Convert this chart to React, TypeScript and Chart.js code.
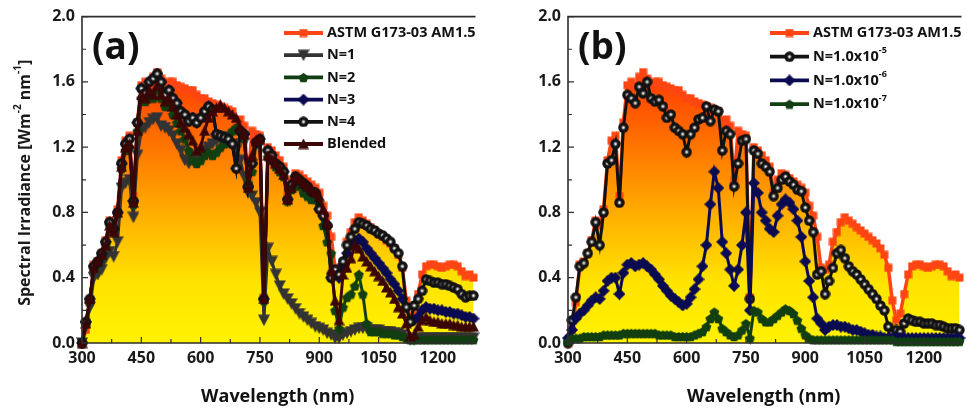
import React, { useEffect, useRef } from 'react';
import { Chart, registerables } from 'chart.js';
Chart.register(...registerables);

// ---------------- data ----------------
const WAVELENGTH = [
  300, 310, 320, 330, 340, 350, 360, 370, 380, 390,
  400, 410, 420, 430, 440, 450, 460, 470, 480, 490,
  500, 510, 520, 530, 540, 550, 560, 570, 580, 590,
  600, 610, 620, 630, 640, 650, 660, 670, 680, 690,
  700, 710, 720, 730, 740, 750, 760, 770, 780, 790,
  800, 810, 820, 830, 840, 850, 860, 870, 880, 890,
  900, 910, 920, 930, 940, 950, 960, 970, 980, 990,
  1000, 1010, 1020, 1030, 1040, 1050, 1060, 1070, 1080, 1090,
  1100, 1110, 1120, 1130, 1140, 1150, 1160, 1170, 1180, 1190,
  1200, 1210, 1220, 1230, 1240, 1250, 1260, 1270, 1280, 1290,
];

const ASTM = [
  0.00, 0.08, 0.25, 0.48, 0.50, 0.55, 0.63, 0.75, 0.72, 0.82,
  1.12, 1.24, 1.27, 0.90, 1.35, 1.58, 1.60, 1.57, 1.63, 1.66,
  1.62, 1.58, 1.60, 1.60, 1.58, 1.57, 1.56, 1.55, 1.55, 1.52,
  1.50, 1.50, 1.48, 1.47, 1.46, 1.45, 1.44, 1.43, 1.42, 1.36,
  1.37, 1.33, 1.00, 1.30, 1.28, 1.27, 0.28, 1.20, 1.18, 1.15,
  1.12, 1.08, 0.92, 1.00, 1.04, 1.03, 1.01, 0.99, 0.97, 0.95,
  0.92, 0.84, 0.78, 0.65, 0.46, 0.45, 0.48, 0.62, 0.68, 0.74,
  0.77, 0.75, 0.73, 0.71, 0.69, 0.67, 0.65, 0.63, 0.61, 0.58,
  0.54, 0.46, 0.26, 0.14, 0.18, 0.30, 0.42, 0.47, 0.48, 0.48,
  0.47, 0.46, 0.47, 0.48, 0.48, 0.47, 0.44, 0.41, 0.42, 0.40,
];

// panel (a)
const A_N1 = [
  0.00, 0.10, 0.22, 0.40, 0.42, 0.45, 0.52, 0.56, 0.53, 0.62,
  0.95, 0.98, 1.00, 0.77, 1.15, 1.30, 1.32, 1.35, 1.37, 1.38,
  1.33, 1.32, 1.30, 1.27, 1.22, 1.18, 1.12, 1.10, 1.12, 1.14,
  1.16, 1.18, 1.20, 1.22, 1.24, 1.25, 1.26, 1.25, 1.22, 1.18,
  1.12, 1.02, 0.92, 0.90, 0.86, 0.80, 0.14, 0.58, 0.50, 0.42,
  0.35, 0.30, 0.27, 0.24, 0.21, 0.18, 0.16, 0.14, 0.12, 0.10,
  0.09, 0.08, 0.06, 0.05, 0.03, 0.03, 0.05, 0.06, 0.07, 0.08,
  0.09, 0.09, 0.09, 0.08, 0.08, 0.08, 0.07, 0.07, 0.07, 0.06,
  0.06, 0.05, 0.03, 0.02, 0.02, 0.03, 0.03, 0.03, 0.03, 0.03,
  0.03, 0.03, 0.03, 0.03, 0.03, 0.03, 0.03, 0.03, 0.03, 0.03,
];
const A_N2 = [
  0.00, 0.12, 0.26, 0.45, 0.49, 0.53, 0.60, 0.72, 0.68, 0.79,
  1.07, 1.18, 1.20, 0.85, 1.30, 1.50, 1.48, 1.52, 1.50, 1.55,
  1.50, 1.45, 1.45, 1.40, 1.35, 1.30, 1.25, 1.18, 1.12, 1.10,
  1.12, 1.15, 1.17, 1.15, 1.17, 1.20, 1.22, 1.27, 1.30, 1.32,
  1.30, 1.25, 0.98, 1.05, 1.22, 1.24, 0.26, 1.14, 1.12, 1.08,
  1.05, 1.02, 0.87, 0.94, 0.98, 0.96, 0.92, 0.90, 0.88, 0.88,
  0.85, 0.72, 0.62, 0.55, 0.20, 0.09, 0.22, 0.28, 0.30, 0.35,
  0.42, 0.30, 0.12, 0.07, 0.07, 0.07, 0.06, 0.06, 0.06, 0.05,
  0.05, 0.04, 0.03, 0.02, 0.02, 0.02, 0.02, 0.02, 0.02, 0.02,
  0.02, 0.02, 0.02, 0.02, 0.02, 0.02, 0.02, 0.02, 0.02, 0.02,
];
const A_N3 = [
  0.00, 0.13, 0.27, 0.47, 0.50, 0.55, 0.62, 0.74, 0.70, 0.80,
  1.10, 1.22, 1.25, 0.87, 1.35, 1.56, 1.53, 1.60, 1.62, 1.65,
  1.60, 1.52, 1.55, 1.50, 1.47, 1.42, 1.40, 1.36, 1.38, 1.35,
  1.38, 1.42, 1.45, 1.43, 1.28, 1.27, 1.26, 1.25, 1.22, 1.07,
  1.30, 1.28, 0.96, 1.10, 1.23, 1.25, 0.27, 1.18, 1.15, 1.10,
  1.08, 1.05, 0.88, 0.97, 1.02, 1.00, 0.98, 0.96, 0.93, 0.92,
  0.82, 0.78, 0.72, 0.40, 0.43, 0.40, 0.48, 0.55, 0.60, 0.62,
  0.64, 0.62, 0.58, 0.55, 0.52, 0.49, 0.46, 0.43, 0.39, 0.36,
  0.32, 0.27, 0.22, 0.13, 0.14, 0.16, 0.20, 0.22, 0.21, 0.21,
  0.20, 0.20, 0.19, 0.19, 0.18, 0.18, 0.17, 0.16, 0.16, 0.15,
];
const A_N4 = [
  0.00, 0.13, 0.27, 0.47, 0.50, 0.55, 0.62, 0.74, 0.70, 0.80,
  1.10, 1.22, 1.25, 0.87, 1.35, 1.56, 1.53, 1.60, 1.62, 1.65,
  1.60, 1.52, 1.55, 1.50, 1.47, 1.42, 1.40, 1.36, 1.38, 1.35,
  1.38, 1.42, 1.45, 1.43, 1.28, 1.27, 1.26, 1.25, 1.22, 1.07,
  1.30, 1.28, 0.96, 1.10, 1.23, 1.25, 0.27, 1.18, 1.15, 1.10,
  1.08, 1.05, 0.88, 0.97, 1.02, 1.00, 0.98, 0.96, 0.93, 0.92,
  0.82, 0.78, 0.72, 0.40, 0.45, 0.42, 0.50, 0.60, 0.65, 0.70,
  0.74, 0.73, 0.72, 0.70, 0.69, 0.67, 0.66, 0.64, 0.62, 0.58,
  0.55, 0.47, 0.22, 0.13, 0.23, 0.27, 0.32, 0.39, 0.38, 0.37,
  0.37, 0.36, 0.36, 0.35, 0.34, 0.33, 0.30, 0.28, 0.29, 0.29,
];
const A_BLENDED = [
  0.00, 0.12, 0.27, 0.46, 0.50, 0.54, 0.60, 0.72, 0.68, 0.80,
  1.08, 1.20, 1.22, 0.86, 1.30, 1.52, 1.50, 1.55, 1.52, 1.58,
  1.52, 1.48, 1.50, 1.45, 1.40, 1.35, 1.32, 1.28, 1.24, 1.18,
  1.20, 1.30, 1.38, 1.42, 1.44, 1.46, 1.44, 1.42, 1.40, 1.38,
  1.32, 1.28, 0.95, 1.15, 1.24, 1.25, 0.27, 1.15, 1.13, 1.10,
  1.07, 1.03, 0.88, 0.95, 1.02, 1.00, 0.98, 0.96, 0.94, 0.92,
  0.90, 0.82, 0.74, 0.45, 0.26, 0.14, 0.42, 0.46, 0.52, 0.60,
  0.58, 0.53, 0.50, 0.47, 0.44, 0.41, 0.38, 0.34, 0.31, 0.27,
  0.22, 0.18, 0.12, 0.04, 0.05, 0.10, 0.14, 0.16, 0.14, 0.13,
  0.13, 0.12, 0.12, 0.12, 0.11, 0.11, 0.10, 0.10, 0.10, 0.10,
];

// panel (b)
const B_N5 = [
  0.00, 0.14, 0.28, 0.47, 0.49, 0.55, 0.62, 0.74, 0.60, 0.80,
  1.10, 1.12, 1.22, 0.86, 1.32, 1.52, 1.50, 1.47, 1.57, 1.53,
  1.60, 1.50, 1.48, 1.49, 1.45, 1.38, 1.40, 1.32, 1.30, 1.28,
  1.17, 1.28, 1.32, 1.37, 1.38, 1.45, 1.36, 1.43, 1.42, 1.18,
  1.30, 1.28, 0.96, 1.10, 1.24, 1.25, 0.27, 1.18, 1.16, 1.10,
  1.08, 1.05, 0.90, 0.95, 1.00, 1.02, 0.99, 0.97, 0.94, 0.93,
  0.83, 0.75, 0.68, 0.42, 0.44, 0.30, 0.38, 0.46, 0.55, 0.57,
  0.52, 0.47, 0.44, 0.42, 0.39, 0.36, 0.33, 0.30, 0.27, 0.23,
  0.20, 0.10, 0.06, 0.08, 0.07, 0.12, 0.15, 0.14, 0.13, 0.13,
  0.12, 0.12, 0.12, 0.11, 0.11, 0.10, 0.09, 0.09, 0.09, 0.08,
];
const B_N6 = [
  0.03, 0.08, 0.15, 0.18, 0.20, 0.23, 0.26, 0.28, 0.27, 0.32,
  0.38, 0.40, 0.40, 0.30, 0.43, 0.48, 0.49, 0.47, 0.48, 0.49,
  0.47, 0.45, 0.42, 0.39, 0.35, 0.32, 0.29, 0.27, 0.25, 0.23,
  0.24, 0.28, 0.33, 0.39, 0.47, 0.60, 0.85, 1.05, 0.95, 0.62,
  0.55, 0.45, 0.35, 0.45, 0.60, 0.80, 0.20, 0.98, 0.92, 0.80,
  0.75, 0.70, 0.68, 0.78, 0.85, 0.88, 0.86, 0.82, 0.75, 0.65,
  0.50, 0.38, 0.28, 0.15, 0.12, 0.08, 0.10, 0.11, 0.11, 0.10,
  0.10, 0.09, 0.08, 0.08, 0.07, 0.06, 0.05, 0.05, 0.04, 0.04,
  0.03, 0.03, 0.03, 0.03, 0.03, 0.03, 0.03, 0.03, 0.03, 0.03,
  0.03, 0.03, 0.03, 0.03, 0.03, 0.03, 0.03, 0.03, 0.03, 0.03,
];
const B_N7 = [
  0.01, 0.03, 0.03, 0.03, 0.04, 0.04, 0.04, 0.04, 0.04, 0.05,
  0.05, 0.05, 0.05, 0.05, 0.06, 0.06, 0.06, 0.06, 0.06, 0.06,
  0.06, 0.06, 0.06, 0.05, 0.05, 0.05, 0.05, 0.04, 0.04, 0.04,
  0.04, 0.04, 0.05, 0.06, 0.07, 0.10, 0.15, 0.19, 0.15, 0.09,
  0.07, 0.05, 0.04, 0.05, 0.08, 0.12, 0.03, 0.20, 0.19, 0.15,
  0.13, 0.13, 0.15, 0.17, 0.19, 0.21, 0.20, 0.18, 0.14, 0.09,
  0.05, 0.03, 0.02, 0.02, 0.02, 0.02, 0.02, 0.02, 0.02, 0.02,
  0.02, 0.02, 0.02, 0.02, 0.02, 0.02, 0.02, 0.02, 0.02, 0.02,
  0.02, 0.02, 0.02, 0.01, 0.01, 0.01, 0.01, 0.01, 0.01, 0.01,
  0.01, 0.01, 0.01, 0.01, 0.01, 0.01, 0.01, 0.01, 0.01, 0.01,
];

const X_MIN = 300;
const X_MAX = 1290;
const X_STEP = 150;
const Y_MIN = 0;
const Y_MAX = 2;
const Y_STEP = 0.4;

// ---------------- styles ----------------
const FONT = '"Open Sans", "DejaVu Sans", sans-serif';
const C_ASTM = '#FF4612';
const C_N1 = '#333333';
const C_N2 = '#113F11';
const C_N3 = '#0B0B52';
const C_N4 = '#121212';
const C_BL = '#3A0606';

type Part = { t: string; sup?: boolean };

function makeMarker(kind: string, color: string, size: number): HTMLCanvasElement {
  const c = document.createElement('canvas');
  c.width = size;
  c.height = size;
  const g = c.getContext('2d')!;
  const r = size / 2;
  g.fillStyle = color;
  g.beginPath();
  if (kind === 'square') {
    g.rect(0.5, 0.5, size - 1, size - 1);
  } else if (kind === 'triDown') {
    g.moveTo(0, 0.5);
    g.lineTo(size, 0.5);
    g.lineTo(r, size);
    g.closePath();
  } else if (kind === 'triUp') {
    g.moveTo(r, 0);
    g.lineTo(size, size - 0.5);
    g.lineTo(0, size - 0.5);
    g.closePath();
  } else if (kind === 'diamond') {
    g.moveTo(r, 0);
    g.lineTo(size, r);
    g.lineTo(r, size);
    g.lineTo(0, r);
    g.closePath();
  } else if (kind === 'pentagon') {
    for (let i = 0; i < 5; i++) {
      const a = (-90 + i * 72) * Math.PI / 180;
      const px = r + (r - 0.3) * Math.cos(a);
      const py = r + 0.6 + (r - 0.3) * Math.sin(a);
      if (i === 0) g.moveTo(px, py); else g.lineTo(px, py);
    }
    g.closePath();
  } else if (kind === 'ball') {
    g.arc(r, r, r - 0.3, 0, Math.PI * 2);
  }
  g.fill();
  if (kind === 'ball') {
    const rg = g.createRadialGradient(r, r, 0, r, r, r * 0.5);
    rg.addColorStop(0, 'rgba(255,255,255,1)');
    rg.addColorStop(0.3, 'rgba(225,225,225,0.95)');
    rg.addColorStop(1, 'rgba(90,90,90,0)');
    g.fillStyle = rg;
    g.beginPath();
    g.arc(r, r, r * 0.5, 0, Math.PI * 2);
    g.fill();
  }
  return c;
}

function partsWidth(ctx: CanvasRenderingContext2D, parts: Part[], size: number, weight: string) {
  let w = 0;
  for (const p of parts) {
    ctx.font = `${weight} ${p.sup ? Math.round(size * 0.62) : size}px ${FONT}`;
    w += ctx.measureText(p.t).width;
  }
  return w;
}

function drawParts(ctx: CanvasRenderingContext2D, parts: Part[], x: number, y: number, size: number, weight: string) {
  let cx = x;
  ctx.textAlign = 'left';
  ctx.textBaseline = 'middle';
  for (const p of parts) {
    if (p.sup) {
      ctx.font = `${weight} ${Math.round(size * 0.62)}px ${FONT}`;
      ctx.fillText(p.t, cx, y - size * 0.4);
    } else {
      ctx.font = `${weight} ${size}px ${FONT}`;
      ctx.fillText(p.t, cx, y);
    }
    cx += ctx.measureText(p.t).width;
  }
}

type LegendEntry = { parts: Part[]; color: string; marker: HTMLCanvasElement };

function decorPlugin(cfg: {
  label: string;
  legend: LegendEntry[];
  legendY0: number;
  legendStep: number;
  yTitle: boolean;
}) {
  return {
    id: 'decor',
    afterDraw(chart: any) {
      const ctx: CanvasRenderingContext2D = chart.ctx;
      const a = chart.chartArea;
      const xs = chart.scales.x;
      const ys = chart.scales.y;
      ctx.save();
      // frame
      ctx.strokeStyle = '#2e2e2e';
      ctx.lineWidth = 1.6;
      ctx.beginPath();
      ctx.moveTo(a.right + 2, a.top);
      ctx.lineTo(a.left, a.top);
      ctx.lineTo(a.left, a.bottom);
      ctx.lineTo(a.right + 2, a.bottom);
      ctx.stroke();
      // inward ticks
      ctx.lineWidth = 1.2;
      ctx.beginPath();
      for (let i = 0; i <= 10; i++) {
        const v = Y_MIN + i * (Y_STEP / 2);
        const py = ys.getPixelForValue(v);
        const len = i % 2 === 0 ? 6 : 4;
        ctx.moveTo(a.left, py);
        ctx.lineTo(a.left + len, py);
      }
      for (let v = X_MIN; v <= X_MAX; v += X_STEP / 2) {
        const px = xs.getPixelForValue(v);
        const len = (v - X_MIN) % X_STEP === 0 ? 6 : 4;
        ctx.moveTo(px, a.bottom);
        ctx.lineTo(px, a.bottom - len);
      }
      ctx.stroke();

      ctx.fillStyle = '#111';
      // panel label
      ctx.font = `bold 37px ${FONT}`;
      ctx.textAlign = 'left';
      ctx.textBaseline = 'alphabetic';
      ctx.fillText(cfg.label, a.left + 10, 59);

      // legend
      cfg.legend.forEach((it, i) => {
        const y = cfg.legendY0 + i * cfg.legendStep;
        ctx.strokeStyle = it.color;
        ctx.lineWidth = 3.8;
        ctx.beginPath();
        ctx.moveTo(a.left + 202, y);
        ctx.lineTo(a.left + 241, y);
        ctx.stroke();
        const m = it.marker;
        ctx.drawImage(m, a.left + 221.5 - m.width / 2, y - m.height / 2);
        ctx.fillStyle = '#111';
        drawParts(ctx, it.parts, a.left + 245, y, 14.5, 'bold');
      });

      // x title
      ctx.fillStyle = '#111';
      ctx.font = `bold 18px ${FONT}`;
      ctx.textAlign = 'center';
      ctx.textBaseline = 'alphabetic';
      ctx.fillText('Wavelength (nm)', (a.left + a.right) / 2, 402);

      // y title
      if (cfg.yTitle) {
        const parts: Part[] = [
          { t: 'Spectral Irradiance [Wm' },
          { t: '-2', sup: true },
          { t: ' nm' },
          { t: '-1', sup: true },
          { t: ']' },
        ];
        ctx.fillStyle = '#1a1a1a';
        const w = partsWidth(ctx, parts, 16, 'bold');
        ctx.translate(25, (a.top + a.bottom) / 2 + 3);
        ctx.rotate(-Math.PI / 2);
        drawParts(ctx, parts, -w / 2, 0, 16, 'bold');
      }
      ctx.restore();
    },
  };
}

function fillGradient(c: any) {
  const chart = c.chart;
  if (!chart.chartArea || !chart.scales.y) return 'rgba(255,220,0,0.9)';
  const y0 = chart.scales.y.getPixelForValue(0);
  const y1 = chart.scales.y.getPixelForValue(1.66);
  const g = chart.ctx.createLinearGradient(0, y0, 0, y1);
  g.addColorStop(0, '#FFF200');
  g.addColorStop(0.22, '#FFE400');
  g.addColorStop(0.45, '#FFB400');
  g.addColorStop(0.7, '#FF7A00');
  g.addColorStop(1, '#FF3A00');
  return g;
}

function series(values: number[], color: string, marker: HTMLCanvasElement, order: number, extra: any = {}) {
  return {
    data: WAVELENGTH.map((x, i) => ({ x, y: values[i] })),
    borderColor: color,
    borderWidth: 3,
    pointStyle: marker,
    pointRadius: 4,
    pointBackgroundColor: color,
    pointBorderColor: color,
    tension: 0,
    fill: false,
    order,
    clip: 7,
    ...extra,
  };
}

function baseOptions() {
  const tickFont = { family: FONT, size: 16, weight: 'bold' as const };
  return {
    animation: false as const,
    responsive: false,
    devicePixelRatio: 1,
    events: [] as any[],
    layout: { padding: { top: 15, left: 0, right: 0, bottom: 0 } },
    plugins: { legend: { display: false }, tooltip: { enabled: false } },
    scales: {
      x: {
        type: 'linear' as const,
        min: X_MIN,
        max: X_MAX,
        ticks: {
          stepSize: X_STEP,
          includeBounds: false,
          padding: 6,
          autoSkip: false,
          maxRotation: 0,
          font: tickFont,
          color: '#1a1a1a',
          callback: (v: any) => String(v),
        },
        grid: { display: false, drawTicks: false },
        border: { display: false },
        afterFit: (s: any) => { s.height = 69; },
      },
      y: {
        min: Y_MIN,
        max: Y_MAX,
        ticks: {
          stepSize: Y_STEP,
          padding: 7,
          font: tickFont,
          color: '#1a1a1a',
          callback: (v: any) => Number(v).toFixed(1),
        },
        grid: { display: false, drawTicks: false },
        border: { display: false },
        afterFit: (s: any) => { s.width = 82; },
      },
    },
  };
}

export default function App() {
  const refA = useRef<HTMLCanvasElement>(null);
  const refB = useRef<HTMLCanvasElement>(null);

  useEffect(() => {
    const mSquare = makeMarker('square', C_ASTM, 9);
    const mTriDown = makeMarker('triDown', C_N1, 12);
    const mPent = makeMarker('pentagon', C_N2, 11);
    const mDiamond = makeMarker('diamond', C_N3, 12);
    const mBall = makeMarker('ball', C_N4, 11);
    const mTriUp = makeMarker('triUp', C_BL, 11);

    const astmSet = (order: number) =>
      series(ASTM, C_ASTM, mSquare, order, {
        fill: 'origin',
        backgroundColor: fillGradient,
        borderWidth: 3.5,
      });

    const chartA = new Chart(refA.current!, {
      type: 'line',
      data: {
        datasets: [
          { label: 'ASTM G173-03 AM1.5', ...astmSet(5) },
          { label: 'N=1', ...series(A_N1, C_N1, mTriDown, 4) },
          { label: 'N=2', ...series(A_N2, C_N2, mPent, 3) },
          { label: 'N=3', ...series(A_N3, C_N3, mDiamond, 2) },
          { label: 'N=4', ...series(A_N4, C_N4, mBall, 1) },
          { label: 'Blended', ...series(A_BLENDED, C_BL, mTriUp, 0) },
        ] as any,
      },
      options: baseOptions() as any,
      plugins: [
        decorPlugin({
          label: '(a)',
          yTitle: true,
          legendY0: 33,
          legendStep: 22.2,
          legend: [
            { parts: [{ t: 'ASTM G173-03 AM1.5' }], color: C_ASTM, marker: mSquare },
            { parts: [{ t: 'N=1' }], color: C_N1, marker: mTriDown },
            { parts: [{ t: 'N=2' }], color: C_N2, marker: mPent },
            { parts: [{ t: 'N=3' }], color: C_N3, marker: mDiamond },
            { parts: [{ t: 'N=4' }], color: C_N4, marker: mBall },
            { parts: [{ t: 'Blended' }], color: C_BL, marker: mTriUp },
          ],
        }) as any,
      ],
    });

    const chartB = new Chart(refB.current!, {
      type: 'line',
      data: {
        datasets: [
          { label: 'ASTM G173-03 AM1.5', ...astmSet(3) },
          { label: 'N=1.0x10-5', ...series(B_N5, C_N4, mBall, 2) },
          { label: 'N=1.0x10-6', ...series(B_N6, C_N3, mDiamond, 1) },
          { label: 'N=1.0x10-7', ...series(B_N7, C_N2, mPent, 0) },
        ] as any,
      },
      options: baseOptions() as any,
      plugins: [
        decorPlugin({
          label: '(b)',
          yTitle: false,
          legendY0: 33,
          legendStep: 23.7,
          legend: [
            { parts: [{ t: 'ASTM G173-03 AM1.5' }], color: C_ASTM, marker: mSquare },
            { parts: [{ t: 'N=1.0x10' }, { t: '-5', sup: true }], color: C_N4, marker: mBall },
            { parts: [{ t: 'N=1.0x10' }, { t: '-6', sup: true }], color: C_N3, marker: mDiamond },
            { parts: [{ t: 'N=1.0x10' }, { t: '-7', sup: true }], color: C_N2, marker: mPent },
          ],
        }) as any,
      ],
    });

    return () => {
      chartA.destroy();
      chartB.destroy();
    };
  }, []);

  return (
    <div style={{ position: 'absolute', left: 0, top: 0, width: 967, height: 412, background: '#fff', overflow: 'hidden' }}>
      <canvas ref={refA} width={481} height={412} style={{ position: 'absolute', left: 0, top: 0, width: 481, height: 412 }} />
      <canvas ref={refB} width={481} height={412} style={{ position: 'absolute', left: 486, top: 0, width: 481, height: 412 }} />
    </div>
  );
}
